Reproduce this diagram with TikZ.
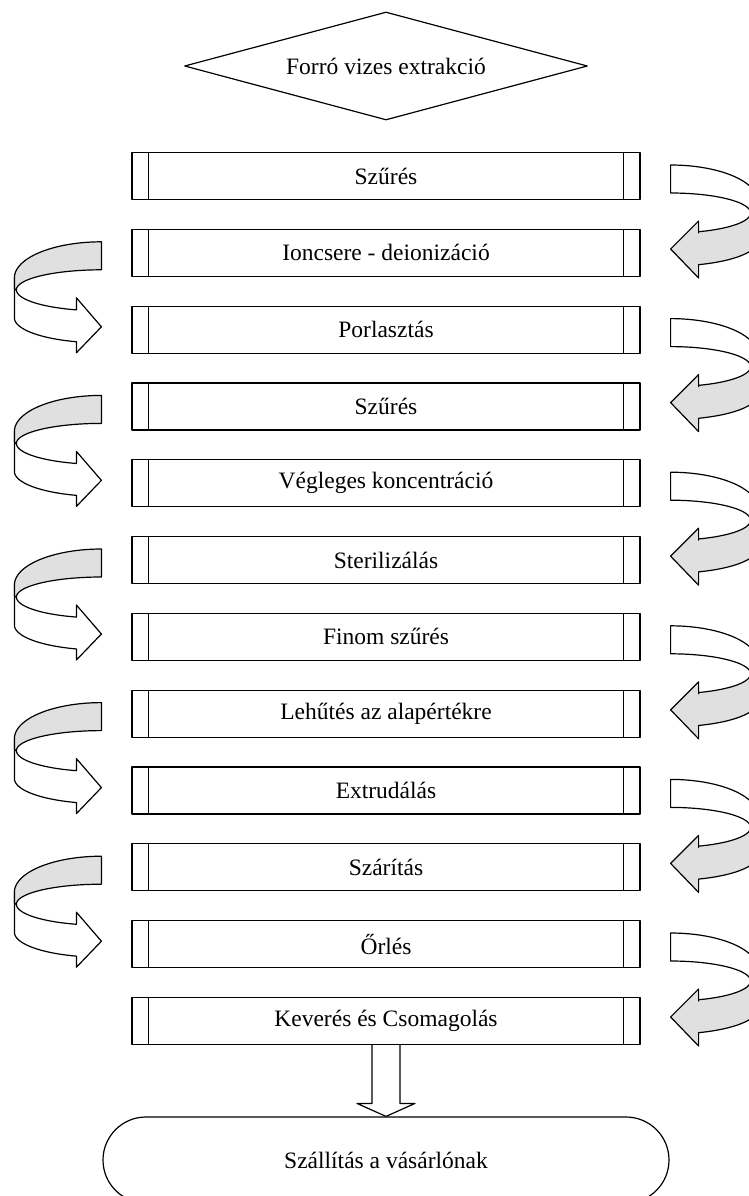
\documentclass[tikz,border=0pt]{standalone}
\usepackage{fontspec}
\setmainfont{Liberation Serif}
\usetikzlibrary{shapes.geometric}
\definecolor{shade}{RGB}{224,224,224}
\tikzset{
  procbox/.style={draw, minimum width=508pt, minimum height=47pt, inner sep=0pt, anchor=north},
  txt/.style={font=\fontsize{23.5}{26}\selectfont},
  larr/.pic={
    \filldraw[fill=white] (-87,36) -- (-87,76)
      -- plot[domain=90:16.7,samples=30] ({-87*sin(\x)},{76+25*cos(\x)})
      -- (-25,111) -- (0,85) -- (-25,56) -- (-25,68)
      -- plot[domain=17.1:90,samples=30] ({-85*sin(\x)},{48+21*cos(\x)})
      -- (-87,47) -- cycle;
    \filldraw[fill=shade] (0,0)
      -- plot[domain=0:90,samples=30] ({-87*sin(\x)},{36-36*cos(\x)})
      -- (-87,47)
      -- plot[domain=90:0,samples=30] ({-85*sin(\x)},{48-20*cos(\x)})
      -- cycle;
  },
  rarr/.pic={
    \filldraw[fill=shade] (87,40) -- (87,76)
      -- plot[domain=90:18.8,samples=30] ({87*sin(\x)},{76+25*cos(\x)})
      -- (28,113) -- (0,84) -- (28,56) -- (28,68)
      -- plot[domain=20.5:90,samples=30] ({80*sin(\x)},{48+20*cos(\x)})
      -- cycle;
    \filldraw[fill=white] (0,0)
      -- plot[domain=0:90,samples=30] ({87*sin(\x)},{36-36*cos(\x)})
      -- (87,44)
      -- plot[domain=90:0,samples=30] ({80*sin(\x)},{48-20*cos(\x)})
      -- cycle;
  }
}
\begin{document}
\begin{tikzpicture}[x=1pt,y=-1pt,line width=1.2pt,line join=round]
\useasboundingbox (0,0) rectangle (749,1196);
\clip (0,0) rectangle (749,1196);
\fill[white] (0,0) rectangle (749,1196);

\node[draw, diamond, shape aspect=3.73, minimum width=403pt, minimum height=108pt, inner sep=0pt, txt] (start) at (386,66) {Forró vizes extrakció};

\node[procbox,txt] (b1) at (386,152.0) {Szűrés};
\node[procbox,txt] (b2) at (386,228.8) {Ioncsere - deionizáció};
\node[procbox,txt] (b3) at (386,305.6) {Porlasztás};
\node[procbox,txt] (b4) at (386,382.4) {Szűrés};
\node[procbox,txt] (b5) at (386,459.2) {Végleges koncentráció};
\node[procbox,txt] (b6) at (386,536.0) {Sterilizálás};
\node[procbox,txt] (b7) at (386,612.8) {Finom szűrés};
\node[procbox,txt] (b8) at (386,689.6) {Lehűtés az alapértékre};
\node[procbox,txt] (b9) at (386,766.4) {Extrudálás};
\node[procbox,txt] (b10) at (386,843.2) {Szárítás};
\node[procbox,txt] (b11) at (386,920.0) {Őrlés};
\node[procbox,txt] (b12) at (386,996.8) {Keverés és Csomagolás};

\foreach \i in {1,...,12}{
  \draw ([xshift=17pt]b\i.north west) -- ([xshift=17pt]b\i.south west);
  \draw ([xshift=-17pt]b\i.north east) -- ([xshift=-17pt]b\i.south east);
}

\node[draw, rounded corners=43pt, minimum width=566pt, minimum height=86pt, inner sep=0pt, txt] (end) at (386,1160) {Szállítás a vásárlónak};

\foreach \i in {1,3,5,7,9,11}{
  \pic at ([xshift=30pt,yshift=-13pt]b\i.north east) {rarr};
}
\foreach \i in {2,4,6,8,10}{
  \pic at ([xshift=-30pt,yshift=-13pt]b\i.north west) {larr};
}

\draw[fill=white] ([xshift=-14pt]b12.south) -- ([xshift=-14pt,yshift=13pt]end.north)
  -- ([xshift=-29pt,yshift=13pt]end.north) -- (end.north)
  -- ([xshift=29pt,yshift=13pt]end.north) -- ([xshift=14pt,yshift=13pt]end.north)
  -- ([xshift=14pt]b12.south);
\end{tikzpicture}
\end{document}
